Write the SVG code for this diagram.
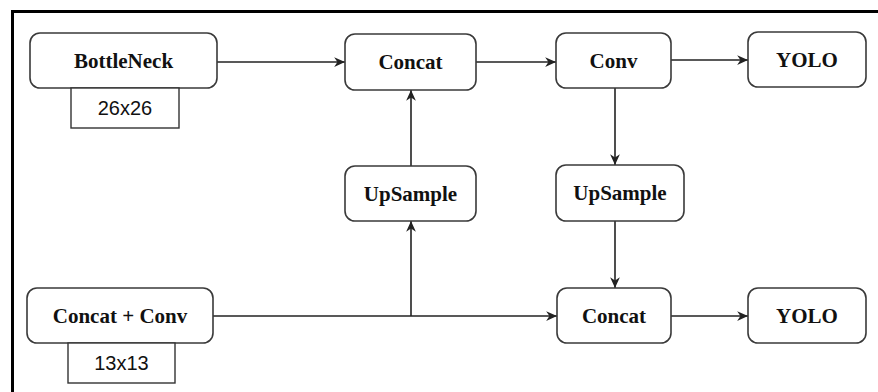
<svg xmlns="http://www.w3.org/2000/svg" width="878" height="392" viewBox="0 0 878 392">
<defs>
<style>
.node rect.box{fill:#fff;stroke:#3a3a3a;stroke-width:1.6}
.node text{font-family:"Liberation Serif","Times New Roman",serif;font-weight:bold;font-size:21px;fill:#111;text-anchor:middle;dominant-baseline:central}
.tag rect{fill:#fff;stroke:#333;stroke-width:1.4}
.tag text{font-family:"Liberation Sans",Arial,sans-serif;font-size:20px;fill:#111;text-anchor:middle;dominant-baseline:central}
.edges path{fill:none;stroke:#222;stroke-width:1.6}
</style>
<marker id="arr" viewBox="0 0 12 12" refX="11" refY="6" markerWidth="13" markerHeight="13" markerUnits="userSpaceOnUse" orient="auto">
<path d="M1,1.5 L11,6 L1,10.5 L4,6 Z" fill="#222"/>
</marker>
</defs>
<rect width="878" height="392" fill="#fff"/>
<path d="M12.5,392 L12.5,11.5 L878,11.5" fill="none" stroke="#000" stroke-width="3"/>

<g class="edges">
<path d="M217,62 L345,62" marker-end="url(#arr)"/>
<path d="M476,62 L556,62" marker-end="url(#arr)"/>
<path d="M671,60 L748,60" marker-end="url(#arr)"/>
<path d="M411,166 L411,90" marker-end="url(#arr)"/>
<path d="M213,316 L557,316" marker-end="url(#arr)"/>
<path d="M411,316 L411,221" marker-end="url(#arr)"/>
<path d="M615,88 L615,165" marker-end="url(#arr)"/>
<path d="M615,221 L615,288" marker-end="url(#arr)"/>
<path d="M671,316 L748,316" marker-end="url(#arr)"/>
</g>

<g id="bottleneck" class="node">
<rect class="box" x="30" y="33" width="187" height="55" rx="10"/>
<text x="123.5" y="61">BottleNeck</text>
</g>
<g id="tag26" class="tag">
<rect x="71" y="88" width="108" height="40"/>
<text x="125" y="108">26x26</text>
</g>
<g id="concat1" class="node">
<rect class="box" x="345" y="34" width="131" height="56" rx="10"/>
<text x="410.5" y="62">Concat</text>
</g>
<g id="conv" class="node">
<rect class="box" x="556" y="33" width="115" height="55" rx="10"/>
<text x="613.5" y="61">Conv</text>
</g>
<g id="yolo1" class="node">
<rect class="box" x="748" y="32" width="118" height="55" rx="10"/>
<text x="807" y="60">YOLO</text>
</g>
<g id="upsample1" class="node">
<rect class="box" x="345" y="166" width="131" height="55" rx="10"/>
<text x="410.5" y="194">UpSample</text>
</g>
<g id="upsample2" class="node">
<rect class="box" x="556" y="165" width="128" height="56" rx="10"/>
<text x="620" y="193">UpSample</text>
</g>
<g id="concatconv" class="node">
<rect class="box" x="27" y="288" width="186" height="55" rx="10"/>
<text x="120" y="316">Concat + Conv</text>
</g>
<g id="tag13" class="tag">
<rect x="68" y="343" width="107" height="40"/>
<text x="121.5" y="363">13x13</text>
</g>
<g id="concat2" class="node">
<rect class="box" x="557" y="288" width="114" height="55" rx="10"/>
<text x="614" y="316">Concat</text>
</g>
<g id="yolo2" class="node">
<rect class="box" x="748" y="288" width="118" height="55" rx="10"/>
<text x="807" y="316">YOLO</text>
</g>
</svg>
